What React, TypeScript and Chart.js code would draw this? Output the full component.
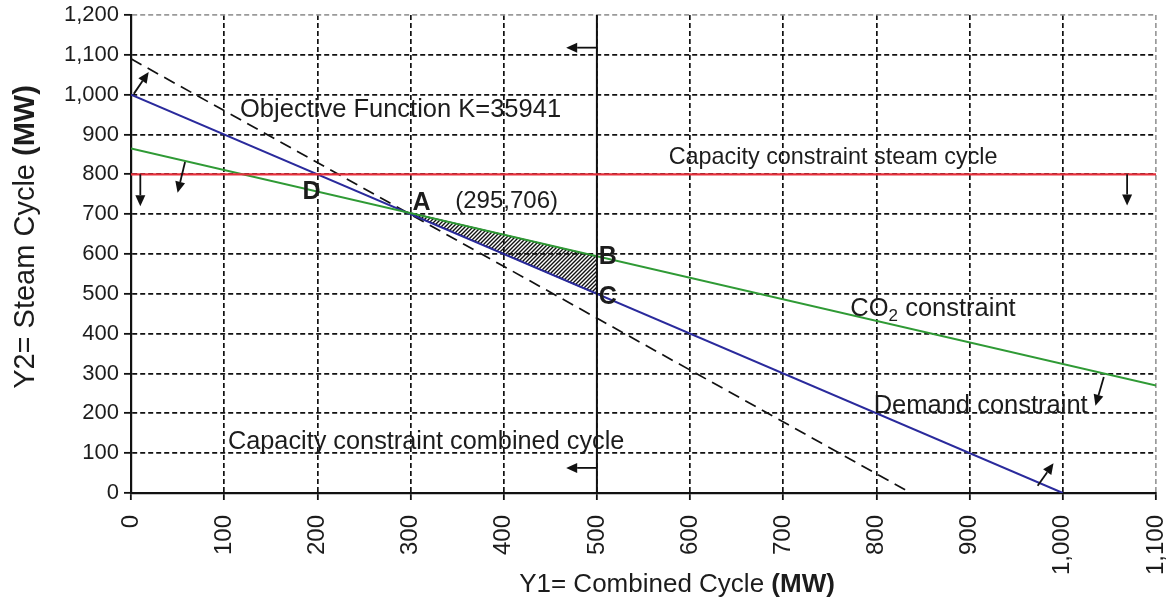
import { useEffect, useRef } from "react";
import { Chart, registerables } from "chart.js";

Chart.register(...registerables);

const FONT = '"Liberation Sans", Arial, Helvetica, sans-serif';
const INK = "#1c1c1c";

// Axis ranges (MW)
const xAxisRange = [0, 1100];
const yAxisRange = [0, 1200];
const tickStep = 100;

// Constraint lines: Y1 = combined cycle, Y2 = steam cycle
const demandLine = [
  { x: 0, y: 1000 },
  { x: 1000, y: 0 },
];
const co2Line = [
  { x: 0, y: 865 },
  { x: 1100, y: 270 },
];
const objectiveLine = [
  { x: 0, y: 1090 },
  { x: 837, y: 0 },
];
const steamCapacityLine = [
  { x: 0, y: 800 },
  { x: 1100, y: 800 },
];
const combinedCapacityLine = [
  { x: 500, y: 0 },
  { x: 500, y: 1200 },
];

// Feasible region corners A, B, C
const feasibleRegion = [
  { x: 295, y: 706 },
  { x: 500, y: 594 },
  { x: 500, y: 500 },
];

// Direction arrows of each constraint: [fromX, fromY, toX, toY]
const directionArrows = [
  [3, 1002, 19, 1057],
  [10, 800, 10, 720],
  [58, 831, 50, 754],
  [500, 1118, 467, 1118],
  [500, 63, 467, 63],
  [1069, 800, 1069, 722],
  [1044, 291, 1035, 219],
  [973, 18, 990, 75],
];

// Annotation texts, anchored at their left edge / vertical middle
const notes = [
  { text: "Objective Function K=35941", x: 117, y: 962, bold: false, size: 25.5 },
  { text: "Capacity constraint steam cycle", x: 577, y: 842, bold: false, size: 23.4 },
  { text: "D", x: 184, y: 755, bold: true, size: 25 },
  { text: "A", x: 302, y: 728, bold: true, size: 25 },
  { text: "(295,706)", x: 348, y: 731, bold: false, size: 24 },
  { text: "B", x: 502, y: 592, bold: true, size: 25 },
  { text: "C", x: 502, y: 491, bold: true, size: 25 },
  { text: "Demand constraint", x: 797, y: 219, bold: false, size: 25.5 },
  { text: "Capacity constraint combined cycle", x: 104, y: 128, bold: false, size: 25.3 },
];
const co2Note = { main: "CO", sub: "2", rest: " constraint", x: 772, y: 463, size: 25.5 };

function makeHatch(): CanvasPattern | string {
  const size = 4;
  const c = document.createElement("canvas");
  c.width = size;
  c.height = size;
  const g = c.getContext("2d");
  if (!g) return "rgba(0,0,0,0.5)";
  g.strokeStyle = "#111";
  g.lineWidth = 1.4;
  g.beginPath();
  g.moveTo(-1, size + 1);
  g.lineTo(size + 1, -1);
  g.moveTo(-1, 1);
  g.lineTo(1, -1);
  g.moveTo(size - 1, size + 1);
  g.lineTo(size + 1, size - 1);
  g.stroke();
  const p = g.createPattern(c, "repeat");
  return p || "rgba(0,0,0,0.5)";
}

function drawArrow(ctx: CanvasRenderingContext2D, x1: number, y1: number, x2: number, y2: number) {
  const ang = Math.atan2(y2 - y1, x2 - x1);
  const head = 11;
  const half = 5;
  const bx = x2 - Math.cos(ang) * head;
  const by = y2 - Math.sin(ang) * head;
  ctx.beginPath();
  ctx.moveTo(x1, y1);
  ctx.lineTo(bx, by);
  ctx.stroke();
  ctx.beginPath();
  ctx.moveTo(x2, y2);
  ctx.lineTo(bx + Math.sin(ang) * half, by - Math.cos(ang) * half);
  ctx.lineTo(bx - Math.sin(ang) * half, by + Math.cos(ang) * half);
  ctx.closePath();
  ctx.fill();
}

function drawMixed(
  ctx: CanvasRenderingContext2D,
  normal: string,
  bold: string,
  size: number,
  cx: number,
  cy: number
) {
  const nf = `${size}px ${FONT}`;
  const bf = `bold ${size}px ${FONT}`;
  ctx.font = nf;
  const w1 = ctx.measureText(normal).width;
  ctx.font = bf;
  const w2 = ctx.measureText(bold).width;
  const start = cx - (w1 + w2) / 2;
  ctx.textAlign = "left";
  ctx.textBaseline = "middle";
  ctx.font = nf;
  ctx.fillText(normal, start, cy);
  ctx.font = bf;
  ctx.fillText(bold, start + w1, cy);
}

const overlayPlugin = {
  id: "lpOverlay",
  beforeDatasetsDraw(chart: any) {
    const { ctx, scales } = chart;
    const xs = scales.x;
    const ys = scales.y;
    ctx.save();
    ctx.fillStyle = makeHatch();
    ctx.beginPath();
    feasibleRegion.forEach((p, i) => {
      const px = xs.getPixelForValue(p.x);
      const py = ys.getPixelForValue(p.y);
      if (i === 0) ctx.moveTo(px, py);
      else ctx.lineTo(px, py);
    });
    ctx.closePath();
    ctx.fill();
    ctx.strokeStyle = "#111";
    ctx.lineWidth = 1.2;
    ctx.stroke();
    ctx.restore();
  },
  afterDatasetsDraw(chart: any) {
    const { ctx, scales } = chart;
    const xs = scales.x;
    const ys = scales.y;
    ctx.save();
    ctx.strokeStyle = "#111";
    ctx.fillStyle = "#111";
    ctx.lineWidth = 1.8;
    directionArrows.forEach(([a, b, c, d]) => {
      drawArrow(
        ctx,
        xs.getPixelForValue(a),
        ys.getPixelForValue(b),
        xs.getPixelForValue(c),
        ys.getPixelForValue(d)
      );
    });

    ctx.fillStyle = INK;
    ctx.textAlign = "left";
    ctx.textBaseline = "middle";
    notes.forEach((n) => {
      ctx.font = `${n.bold ? "bold " : ""}${n.size}px ${FONT}`;
      ctx.fillText(n.text, xs.getPixelForValue(n.x), ys.getPixelForValue(n.y));
    });

    // CO2 label with subscript
    let cx = xs.getPixelForValue(co2Note.x);
    const cy = ys.getPixelForValue(co2Note.y);
    ctx.font = `${co2Note.size}px ${FONT}`;
    ctx.fillText(co2Note.main, cx, cy);
    cx += ctx.measureText(co2Note.main).width;
    ctx.font = `${Math.round(co2Note.size * 0.68)}px ${FONT}`;
    ctx.fillText(co2Note.sub, cx, cy + 8);
    cx += ctx.measureText(co2Note.sub).width;
    ctx.font = `${co2Note.size}px ${FONT}`;
    ctx.fillText(co2Note.rest, cx, cy);
    ctx.restore();
  },
  afterDraw(chart: any) {
    const { ctx } = chart;
    ctx.save();
    ctx.fillStyle = INK;
    // X axis title
    drawMixed(ctx, "Y1= Combined Cycle ", "(MW)", 26, 677, 585);
    // Y axis title
    ctx.translate(26, 237);
    ctx.rotate(-Math.PI / 2);
    drawMixed(ctx, "Y2= Steam Cycle ", "(MW)", 29, 0, 0);
    ctx.restore();
  },
};

const lineSet = (data: any[], color: string, dash: number[] = [], width = 2) => ({
  data,
  borderColor: color,
  backgroundColor: color,
  borderWidth: width,
  borderDash: dash,
  showLine: true,
  pointRadius: 0,
  pointHoverRadius: 0,
  fill: false,
  tension: 0,
});

export default function App() {
  const canvasRef = useRef<HTMLCanvasElement | null>(null);

  useEffect(() => {
    const canvas = canvasRef.current;
    if (!canvas) return;

    const gridColor = (max: number) => (c: any) =>
      c.tick && c.tick.value === max ? "#9a9a9a" : "#111";

    const chart = new Chart(canvas, {
      type: "scatter",
      data: {
        datasets: [
          lineSet(steamCapacityLine, "#e5303c", [], 2.2),
          lineSet(combinedCapacityLine, "#111111", [], 2),
          lineSet(co2Line, "#2f9a35", [], 2),
          lineSet(demandLine, "#2a2a9c", [], 2),
          lineSet(objectiveLine, "#111111", [12, 7], 1.7),
        ],
      },
      options: {
        responsive: false,
        devicePixelRatio: 1,
        animation: false,
        events: [],
        layout: { padding: { top: 15, right: 17, left: 0, bottom: 0 } },
        plugins: {
          legend: { display: false },
          tooltip: { enabled: false },
          title: { display: false },
        },
        scales: {
          x: {
            type: "linear",
            min: xAxisRange[0],
            max: xAxisRange[1],
            afterFit: (s: any) => {
              s.height = 114;
              s.paddingLeft = 0;
              s.paddingRight = 0;
            },
            ticks: {
              stepSize: tickStep,
              minRotation: 90,
              maxRotation: 90,
              padding: 15,
              color: INK,
              font: { family: FONT, size: 24 },
              callback: (v: any) => Number(v).toLocaleString("en-US"),
            },
            grid: {
              color: gridColor(xAxisRange[1]),
              lineWidth: 1.7,
              tickLength: 7,
              tickColor: "#111",
              tickBorderDash: [],
              tickWidth: 1.8,
            },
            border: { display: true, color: "#111", width: 2.2, dash: [5, 3] },
          },
          y: {
            type: "linear",
            min: yAxisRange[0],
            max: yAxisRange[1],
            afterFit: (s: any) => {
              s.width = 131;
              s.paddingTop = 0;
              s.paddingBottom = 0;
            },
            ticks: {
              stepSize: tickStep,
              padding: 5,
              color: INK,
              font: { family: FONT, size: 22 },
              callback: (v: any) => Number(v).toLocaleString("en-US"),
            },
            grid: {
              color: gridColor(yAxisRange[1]),
              lineWidth: 1.7,
              tickLength: 7,
              tickColor: "#111",
              tickBorderDash: [],
              tickWidth: 1.8,
            },
            border: { display: true, color: "#111", width: 2.2, dash: [5, 3] },
          },
        },
      },
      plugins: [overlayPlugin],
    } as any);

    return () => chart.destroy();
  }, []);

  return (
    <div
      style={{
        position: "absolute",
        left: 0,
        top: 0,
        width: 1173,
        height: 607,
        background: "#ffffff",
      }}
    >
      <canvas ref={canvasRef} width={1173} height={607} />
    </div>
  );
}
